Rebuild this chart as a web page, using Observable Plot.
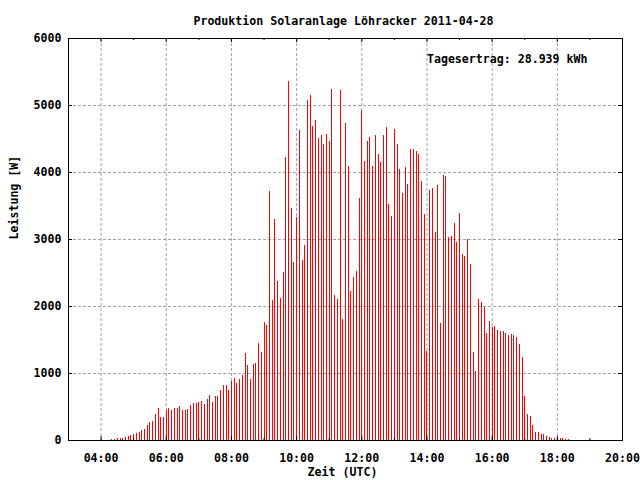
<!DOCTYPE html>
<html><head><meta charset="utf-8">
<script src="https://cdn.jsdelivr.net/npm/d3@7"></script>
<script src="https://cdn.jsdelivr.net/npm/@observablehq/plot@0.6"></script>
<style>html,body{margin:0;padding:0;background:#fff} svg{display:block}</style>
</head><body><div id="chart"></div>
<script>
const title = "Produktion Solaranlage Löhracker 2011-04-28";
const annotation = "Tagesertrag: 28.939 kWh";
const xLabel = "Zeit (UTC)";
const yLabel = "Leistung [W]";
const xDomain = ["03:00", "20:00"];
const xTickLabels = ["04:00","06:00","08:00","10:00","12:00","14:00","16:00","18:00","20:00"];
const xMinorTicks = ["05:00","07:00","09:00","11:00","13:00","15:00","17:00","19:00"];
const yTickValues = [0,1000,2000,3000,4000,5000,6000];

const times = [
  "04:20","04:25","04:30","04:35","04:40","04:45","04:50","04:55",
  "05:00","05:05","05:10","05:15","05:20","05:25","05:30","05:35","05:40","05:45","05:50","05:55",
  "06:00","06:05","06:10","06:15","06:20","06:25","06:30","06:35","06:40","06:45","06:50","06:55",
  "07:00","07:05","07:10","07:15","07:20","07:25","07:30","07:35","07:40","07:45","07:50","07:55",
  "08:00","08:05","08:10","08:15","08:20","08:25","08:30","08:35","08:40","08:45","08:50","08:55",
  "09:00","09:05","09:10","09:15","09:20","09:25","09:30","09:35","09:40","09:45","09:50","09:55",
  "10:00","10:05","10:10","10:15","10:20","10:25","10:30","10:35","10:40","10:45","10:50","10:55",
  "11:00","11:05","11:10","11:15","11:20","11:25","11:30","11:35","11:40","11:45","11:50","11:55",
  "12:00","12:05","12:10","12:15","12:20","12:25","12:30","12:35","12:40","12:45","12:50","12:55",
  "13:00","13:05","13:10","13:15","13:20","13:25","13:30","13:35","13:40","13:45","13:50","13:55",
  "14:00","14:05","14:10","14:15","14:20","14:25","14:30","14:35","14:40","14:45","14:50","14:55",
  "15:00","15:05","15:10","15:15","15:20","15:25","15:30","15:35","15:40","15:45","15:50","15:55",
  "16:00","16:05","16:10","16:15","16:20","16:25","16:30","16:35","16:40","16:45","16:50","16:55",
  "17:00","17:05","17:10","17:15","17:20","17:25","17:30","17:35","17:40","17:45","17:50","17:55",
  "18:00","18:05","18:10","18:15","18:20"
];
const power = [
  15,20,30,30,30,50,60,75,
  90,105,120,150,165,225,270,285,390,480,345,345,
  450,480,450,480,480,510,450,450,465,524,554,554,
  574,584,539,614,673,569,658,658,748,823,823,748,
  883,928,853,913,973,1302,1122,913,1137,1152,1452,1317,
  1766,1721,3716,2095,3292,2379,2125,2504,4225,5362,3462,2654,
  3327,4624,2694,2908,5073,5148,4689,4779,4509,4554,4419,4569,
  4464,5242,2160,2110,5222,1811,4729,4085,2230,2439,2529,3606,
  4923,4160,4459,4519,4085,4549,4265,4145,4549,4669,3517,3337,
  4639,4414,4040,3681,4070,3816,4350,4340,4320,4265,3861,3367,
  1332,3726,3756,3098,3801,1751,3951,3936,3023,3038,3232,2948,
  3382,2783,2753,2993,2634,1317,1033,2110,2065,1990,1601,1781,
  1691,1706,1646,1631,1631,1601,1571,1586,1571,1541,1437,1242,
  658,389,359,224,120,120,90,90,60,45,30,30,
  30,30,30,15,15
];

const toHours = s => { const [h, m] = s.split(":").map(Number); return h + m / 60; };
const data = times.map((t, i) => ({t: toHours(t), v: power[i]}));

const W = 640, H = 480, mL = 68, mR = 18, mT = 38, mB = 40;
const frameW = W - mL - mR, frameH = H - mT - mB;
const font = "'DejaVu Sans Mono', monospace";
const txt = {fontWeight: "bold", fontSize: 11.6, fontFamily: font, fill: "black"};

const chart = Plot.plot({
  width: W, height: H,
  marginLeft: mL, marginRight: mR, marginTop: mT, marginBottom: mB,
  x: {domain: xDomain.map(toHours), axis: null},
  y: {domain: [yTickValues[0], yTickValues[yTickValues.length - 1]], axis: null},
  style: {fontFamily: font, fontSize: "11.6px", background: "white"},
  marks: [
    Plot.gridX(xTickLabels.map(toHours), {stroke: "#a0a0a0", strokeOpacity: 1, strokeDasharray: "3,2"}),
    Plot.gridY(yTickValues, {stroke: "#a0a0a0", strokeOpacity: 1, strokeDasharray: "3,2"}),
    Plot.ruleX(data, {x: "t", y1: 0, y2: "v", stroke: "#ff0000", strokeWidth: 1, shapeRendering: "crispEdges"}),
    Plot.frame({stroke: "black", strokeWidth: 1}),
    Plot.tickX(xTickLabels, {x: toHours, insetTop: frameH - 4, stroke: "black"}),
    Plot.tickX(xTickLabels, {x: toHours, insetBottom: frameH - 4, stroke: "black"}),
    Plot.tickX(xMinorTicks, {x: toHours, insetTop: frameH - 2, stroke: "black"}),
    Plot.tickX(xMinorTicks, {x: toHours, insetBottom: frameH - 2, stroke: "black"}),
    Plot.tickY(yTickValues, {y: d => d, insetRight: frameW - 4, stroke: "black"}),
    Plot.tickY(yTickValues, {y: d => d, insetLeft: frameW - 4, stroke: "black"}),
    Plot.text(xTickLabels, {x: toHours, text: d => d, frameAnchor: "bottom", dy: 21, ...txt}),
    Plot.text(yTickValues, {y: d => d, text: d => String(d), frameAnchor: "left", dx: -7, textAnchor: "end", ...txt}),
    Plot.text([title], {text: d => d, frameAnchor: "top", dx: -2, dy: -22, ...txt}),
    Plot.text([annotation], {text: d => d, frameAnchor: "top-right", dx: -35, dy: 16, textAnchor: "end", ...txt}),
    Plot.text([xLabel], {text: d => d, frameAnchor: "bottom", dx: -3, dy: 35, ...txt}),
    Plot.text([yLabel], {text: d => d, frameAnchor: "left", dx: -54, rotate: -90, ...txt})
  ]
});
document.getElementById("chart").appendChild(chart);
</script>
</body></html>
